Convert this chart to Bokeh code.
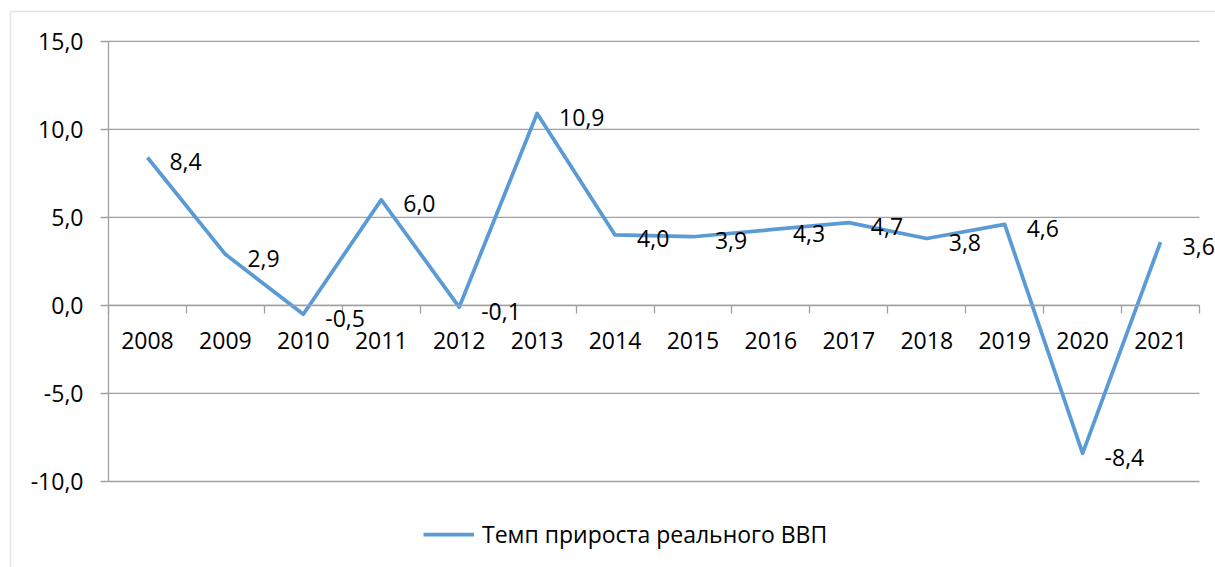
from bokeh.plotting import figure
from bokeh.models import (Range1d, FixedTicker, CustomJSTickFormatter, ColumnDataSource,
                          LabelSet, Legend, LegendItem, BoxAnnotation)
from bokeh.core.properties import value
from bokeh.embed import file_html
from bokeh.resources import INLINE

years = ["2008", "2009", "2010", "2011", "2012", "2013", "2014",
         "2015", "2016", "2017", "2018", "2019", "2020", "2021"]
growth = [8.4, 2.9, -0.5, 6.0, -0.1, 10.9, 4.0, 3.9, 4.3, 4.7, 3.8, 4.6, -8.4, 3.6]
y_ticks = [-10, -5, 0, 5, 10, 15]
series_name = "Темп прироста реального ВВП"

FONT = "Open Sans"
GRID = "#a0a0a0"
BORDER = "#a8a8a8"
BLUE = "#5b9bd5"

# page layout (pixels)
W, H = 1215, 567
PL, PR, PT, PB = 108, 1199, 40.8, 481

n = len(years)
y_lo_t, y_hi_t = y_ticks[0], y_ticks[-1]
xpu = (PR - PL) / n
ypu = (PB - PT) / (y_hi_t - y_lo_t)
x_range = Range1d(-PL / xpu, n + (W - PR) / xpu)
y_range = Range1d(y_lo_t - (H - PB) / ypu, y_hi_t + PT / ypu)

xs = [i + 0.5 for i in range(n)]
labels = [f"{v:.1f}".replace(".", ",") for v in growth]
src = ColumnDataSource(dict(x=xs, y=growth, lab=labels))

p = figure(width=W, height=H, output_backend="svg", toolbar_location=None,
           x_range=x_range, y_range=y_range,
           min_border_left=0, min_border_right=0, min_border_top=0, min_border_bottom=0)
p.outline_line_color = None
p.background_fill_color = "white"
p.border_fill_color = "white"
p.xgrid.visible = False
p.ygrid.visible = False

# outer chart border
p.add_layout(BoxAnnotation(left=10, top=11, right=W + 200, bottom=H + 200,
                           left_units="canvas", right_units="canvas",
                           top_units="canvas", bottom_units="canvas",
                           fill_alpha=0, line_color=BORDER, line_width=1.5, level="underlay"))

# horizontal gridlines across the plot area only
p.segment(x0=[0] * len(y_ticks), x1=[n] * len(y_ticks), y0=y_ticks, y1=y_ticks,
          line_color=GRID, line_width=1.3)

# y axis at the left edge of the plot area
ya = p.yaxis[0]
ya.fixed_location = 0
ya.bounds = (y_lo_t, y_hi_t)
ya.ticker = FixedTicker(ticks=y_ticks)
ya.formatter = CustomJSTickFormatter(code="return tick.toFixed(1).replace('.', ',');")
ya.axis_line_color = GRID
ya.axis_line_width = 1.3
ya.major_tick_line_color = GRID
ya.major_tick_line_width = 1.3
ya.major_tick_out = 8
ya.major_tick_in = 0
ya.minor_tick_line_color = None
ya.major_label_text_font = FONT
ya.major_label_text_font_size = "23px"
ya.major_label_text_color = "black"
ya.major_label_standoff = 17

# x axis crossing at zero
xa = p.xaxis[0]
xa.fixed_location = 0
xa.bounds = (0, n)
xa.ticker = FixedTicker(ticks=xs, minor_ticks=list(range(n + 1)))
xa.major_label_overrides = {x: y for x, y in zip(xs, years)}
xa.axis_line_color = GRID
xa.axis_line_width = 1.3
xa.major_tick_line_color = None
xa.major_tick_out = 0
xa.major_tick_in = 0
xa.minor_tick_line_color = GRID
xa.minor_tick_line_width = 1.3
xa.minor_tick_out = 8
xa.minor_tick_in = 0
xa.major_label_text_font = FONT
xa.major_label_text_font_size = "23px"
xa.major_label_text_color = "black"
xa.major_label_standoff = 19

r = p.line("x", "y", source=src, line_color=BLUE, line_width=3.75, line_join="round")

lbl = LabelSet(x="x", y="y", text="lab", source=src, x_offset=22, y_offset=-4,
               text_align="left", text_baseline="middle", text_font=value(FONT),
               text_font_size=value("23px"), text_color="black")
p.add_layout(lbl)

legend = Legend(items=[LegendItem(label=series_name, renderers=[r])],
                location=(423, 17), orientation="horizontal",
                glyph_width=51, glyph_height=30, label_height=30, label_standoff=8,
                padding=0, margin=0, spacing=0,
                border_line_color=None, background_fill_alpha=0,
                label_text_font=FONT, label_text_font_size="23px", label_text_color="black")
p.add_layout(legend, "center")

open("out.html", "w").write(file_html(p, INLINE))
